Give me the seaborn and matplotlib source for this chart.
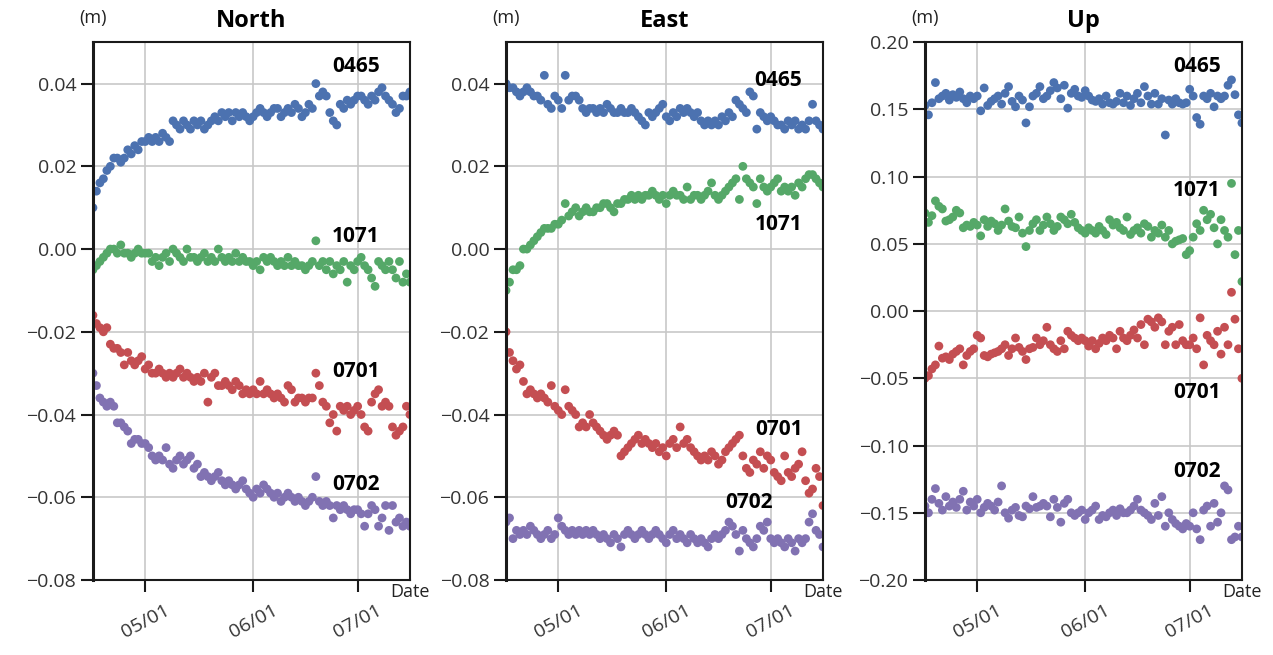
#!/usr/bin/env python
# coding: utf-8

import numpy as np
import pandas as pd
import matplotlib
matplotlib.use('Agg')
import matplotlib.pyplot as plt
import matplotlib.dates as mdates
from matplotlib.ticker import FuncFormatter, MultipleLocator
import seaborn as sns


# daily solutions, 2023-04-16 .. 2023-07-16, values in mm
dates = pd.date_range('2023-04-16', '2023-07-16', freq='D')
stations = ['0465', '1071', '0701', '0702']
components = ['North', 'East', 'Up']

north_0465 = [10, 14, 16, 17, 19, 20, 22, 22, 21, 22,
              24, 23, 25, 24, 26, 26, 27, 26, 27, 26,
              28, 27, 26, 31, 30, 29, 31, 30, 29, 31,
              30, 31, 29, 30, 31, 32, 31, 33, 32, 33,
              31, 33, 32, 33, 32, 31, 32, 33, 34, 33,
              32, 33, 34, 34, 32, 33, 34, 33, 35, 34,
              32, 33, 35, 34, 40, 37, 38, 37, 33, 31,
              30, 35, 34, 36, 35, 36, 37, 37, 36, 35,
              37, 36, 38, 39, 37, 36, 35, 33, 34, 37,
              37, 38]
north_1071 = [-5, -4, -3, -2, -1, 0, 0, -1, 1, -1,
              -1, -2, -1, 0, -1, -1, -1, -3, -2, -4,
              -2, -1, -3, 0, -1, -2, -3, 0, -2, -2,
              -3, -2, -1, -3, -2, -3, 0, -2, -3, -2,
              -3, -1, -3, -2, -3, -3, -4, -3, -5, -2,
              -3, -2, -3, -4, -3, -4, -2, -4, -3, -4,
              -4, -5, -4, -3, 2, -4, -3, -5, -3, -6,
              -4, -5, -3, -8, -4, -5, -3, -2, -4, -5,
              -7, -9, -3, -4, -5, -3, -5, -7, -3, -8,
              -6, -8]
north_0701 = [-16, -18, -19, -20, -19, -23, -24, -24, -25, -28,
              -25, -27, -28, -27, -26, -29, -28, -30, -30, -29,
              -30, -31, -30, -31, -30, -29, -31, -30, -31, -32,
              -31, -32, -30, -37, -31, -30, -33, -33, -32, -33,
              -34, -32, -33, -35, -34, -35, -34, -35, -32, -35,
              -34, -35, -36, -35, -36, -37, -33, -34, -37, -36,
              -36, -37, -36, -36, -30, -33, -37, -38, -42, -40,
              -44, -38, -39, -38, -40, -39, -38, -40, -43, -44,
              -37, -35, -34, -38, -37, -38, -43, -45, -44, -43,
              -38, -40]
north_0702 = [-30, -33, -36, -37, -38, -37, -38, -42, -42, -43,
              -44, -47, -46, -46, -47, -47, -48, -50, -51, -50,
              -51, -48, -52, -53, -51, -50, -52, -51, -50, -53,
              -52, -55, -54, -55, -56, -55, -54, -56, -57, -56,
              -57, -58, -57, -56, -58, -59, -60, -58, -59, -57,
              -58, -59, -60, -59, -61, -60, -59, -60, -61, -60,
              -61, -62, -61, -60, -55, -61, -62, -61, -62, -65,
              -62, -63, -62, -63, -64, -63, -63, -64, -67, -64,
              -62, -63, -67, -65, -62, -68, -62, -66, -65, -67,
              -66, -67]

east_0465 = [40, 39, 39, 38, 37, 38, 39, 38, 37, 37,
             36, 42, 35, 34, 37, 36, 34, 42, 36, 37,
             37, 36, 34, 33, 34, 34, 33, 34, 33, 35,
             34, 33, 33, 34, 33, 33, 34, 33, 32, 31,
             30, 33, 32, 33, 34, 35, 32, 31, 33, 32,
             34, 33, 34, 33, 32, 33, 31, 30, 31, 30,
             31, 30, 32, 31, 33, 32, 36, 35, 34, 33,
             38, 37, 29, 33, 32, 31, 32, 31, 30, 30,
             29, 31, 30, 31, 29, 30, 29, 31, 35, 31,
             30, 29]
east_1071 = [-10, -8, -5, -5, -4, 0, 0, 1, 2, 3,
             4, 5, 5, 5, 6, 6, 7, 11, 8, 9,
             10, 8, 9, 10, 9, 9, 10, 10, 11, 11,
             10, 9, 11, 11, 12, 12, 13, 12, 13, 12,
             13, 13, 14, 13, 12, 13, 11, 13, 14, 13,
             13, 12, 15, 12, 13, 13, 12, 13, 14, 16,
             13, 12, 13, 14, 15, 16, 17, 12, 20, 17,
             16, 15, 11, 17, 15, 14, 15, 16, 17, 14,
             15, 14, 15, 13, 16, 15, 17, 18, 18, 17,
             16, 15]
east_0701 = [-20, -25, -27, -29, -28, -32, -35, -34, -35, -36,
             -35, -36, -37, -33, -38, -39, -40, -34, -38, -39,
             -40, -43, -42, -43, -40, -42, -43, -44, -45, -46,
             -45, -44, -45, -50, -49, -48, -47, -46, -45, -47,
             -46, -47, -48, -47, -49, -48, -50, -47, -46, -48,
             -43, -47, -46, -48, -49, -50, -51, -50, -51, -49,
             -50, -52, -51, -49, -48, -47, -46, -45, -50, -53,
             -54, -51, -52, -49, -53, -50, -51, -54, -55, -56,
             -50, -54, -55, -53, -52, -49, -56, -59, -58, -53,
             -55, -62]
east_0702 = [-66, -65, -70, -68, -69, -68, -69, -67, -68, -69,
             -70, -69, -68, -70, -69, -65, -67, -68, -69, -68,
             -69, -68, -69, -68, -69, -68, -69, -70, -69, -70,
             -71, -69, -70, -72, -69, -68, -69, -70, -69, -68,
             -69, -70, -69, -68, -69, -70, -71, -69, -68, -70,
             -69, -70, -71, -69, -70, -71, -70, -71, -72, -70,
             -69, -70, -69, -68, -66, -67, -69, -73, -68, -70,
             -71, -72, -70, -67, -68, -66, -70, -71, -70, -71,
             -72, -70, -71, -73, -70, -71, -70, -66, -64, -68,
             -69, -72]

up_0465 = [153, 146, 155, 170, 158, 160, 162, 157, 161, 159,
           163, 158, 155, 160, 158, 160, 149, 166, 153, 156,
           158, 160, 154, 162, 167, 156, 152, 160, 157, 140,
           152, 160, 162, 167, 158, 160, 164, 170, 166, 158,
           168, 151, 162, 165, 160, 159, 164, 160, 157, 156,
           158, 154, 160, 155, 154, 156, 162, 155, 160, 153,
           158, 162, 155, 167, 160, 154, 162, 154, 158, 131,
           157, 154, 158, 155, 154, 155, 165, 160, 144, 139,
           160, 158, 162, 152, 160, 158, 160, 168, 172, 161,
           146, 140]
up_1071 = [73, 66, 71, 82, 78, 76, 67, 68, 70, 75,
           73, 62, 64, 63, 66, 64, 56, 68, 63, 67,
           65, 60, 64, 76, 67, 63, 62, 70, 58, 48,
           60, 65, 68, 60, 64, 70, 65, 60, 63, 70,
           68, 65, 72, 66, 62, 60, 58, 62, 60, 58,
           63, 60, 57, 68, 64, 66, 62, 60, 70, 57,
           60, 62, 58, 65, 63, 55, 60, 58, 64, 55,
           60, 50, 52, 53, 54, 42, 45, 55, 65, 60,
           75, 68, 72, 62, 50, 68, 60, 55, 95, 42,
           60, 22]
up_0701 = [-50, -48, -43, -40, -26, -35, -34, -36, -32, -30,
           -28, -40, -33, -30, -28, -18, -20, -33, -34, -32,
           -31, -30, -28, -25, -33, -28, -20, -27, -30, -36,
           -28, -27, -20, -25, -22, -12, -25, -28, -30, -22,
           -28, -15, -18, -20, -22, -20, -22, -26, -22, -28,
           -24, -20, -22, -18, -20, -28, -15, -20, -22, -18,
           -14, -20, -10, -25, -6, -8, -12, -5, -8, -25,
           -15, -12, -25, -10, -22, -25, -25, -20, -28, -5,
           -40, -18, -22, -25, -15, -32, -12, -25, 14, -6,
           -28, -50]
up_0702 = [-145, -150, -140, -132, -143, -148, -138, -145, -142, -146,
           -140, -134, -148, -142, -145, -140, -150, -146, -143, -145,
           -148, -142, -130, -150, -154, -148, -146, -152, -153, -145,
           -147, -138, -146, -145, -143, -145, -153, -140, -146, -157,
           -143, -140, -150, -152, -150, -148, -155, -150, -148, -145,
           -155, -152, -153, -150, -148, -152, -147, -150, -150, -148,
           -145, -140, -148, -150, -152, -155, -143, -152, -138, -160,
           -150, -155, -158, -160, -162, -158, -160, -150, -162, -170,
           -148, -145, -160, -143, -157, -150, -130, -133, -170, -168,
           -160, -168]

series = {
    'North': [north_0465, north_1071, north_0701, north_0702],
    'East': [east_0465, east_1071, east_0701, east_0702],
    'Up': [up_0465, up_1071, up_0701, up_0702],
}

# label positions (axes fraction) for the station names
label_pos = {
    'North': [(0.83, 0.954), (0.83, 0.638), (0.83, 0.387), (0.83, 0.178)],
    'East': [(0.86, 0.928), (0.86, 0.662), (0.86, 0.279), (0.765, 0.145)],
    'Up': [(0.858, 0.954), (0.858, 0.725), (0.858, 0.348), (0.858, 0.201)],
}

colors = ['#4C72B0', '#55A868', '#C44E52', '#8172B2']


def minus_fmt(fmt):
    return FuncFormatter(lambda v, p: (fmt % v).replace('-', '\u2212'))


def main():
    sns.set_theme(style='whitegrid')
    plt.rcParams['font.family'] = ['Open Sans', 'DejaVu Sans']

    fig = plt.figure(figsize=(12.73, 6.55), dpi=100)
    lefts = [0.073, 0.3975, 0.7266]

    for comp, left in zip(components, lefts):
        ax = fig.add_axes([left, 0.1145, 0.249, 0.821])

        frames = []
        for st, vals in zip(stations, series[comp]):
            if len(vals) != len(dates):
                raise ValueError(f'{comp} {st}: {len(vals)} values')
            frames.append(pd.DataFrame({'date': dates,
                                        'value': np.array(vals) / 1000.0,
                                        'station': st}))
        df = pd.concat(frames, ignore_index=True)

        sns.scatterplot(data=df, x='date', y='value', hue='station',
                        palette=colors, hue_order=stations, s=40,
                        linewidth=0, legend=False, ax=ax)

        ax.set_xlim(dates[0], dates[-1])
        if comp == 'Up':
            ax.set_ylim(-0.20, 0.20)
            ax.yaxis.set_major_locator(MultipleLocator(0.05))
        else:
            ax.set_ylim(-0.08, 0.05)
            ax.yaxis.set_major_locator(MultipleLocator(0.02))
        ax.yaxis.set_major_formatter(minus_fmt('%.2f'))

        ax.xaxis.set_major_locator(mdates.MonthLocator(bymonth=[5, 6, 7]))
        ax.xaxis.set_major_formatter(mdates.DateFormatter('%m/%d'))
        plt.setp(ax.get_xticklabels(), rotation=28, ha='center')

        ax.set_xlabel('')
        ax.set_ylabel('')
        ax.grid(True, color='#c8c8c8', linewidth=1.2)
        for sp in ax.spines.values():
            sp.set_color('#1a1a1a')
            sp.set_linewidth(1.5)
        ax.spines['left'].set_linewidth(2.2)
        ax.tick_params(axis='both', which='major', direction='out', length=8.5,
                       width=1.5, color='#1a1a1a', labelsize=14,
                       labelcolor='#333333', left=True, bottom=True)
        ax.tick_params(axis='x', pad=7)

        ax.text(0.5, 1.04, comp, transform=ax.transAxes, ha='center',
                va='center', fontsize=17, fontweight='bold', color='black')
        ax.text(0.0, 1.045, '(m)', transform=ax.transAxes, ha='center',
                va='center', fontsize=13, color='#222222')
        ax.text(1.0, -0.022, 'Date', transform=ax.transAxes, ha='center',
                va='center', fontsize=13, color='#222222')

        for st, (tx, ty) in zip(stations, label_pos[comp]):
            ax.text(tx, ty, st, transform=ax.transAxes, ha='center',
                    va='center', fontsize=15, fontweight='bold', color='black')

    fig.savefig('out.png', dpi=100)


if __name__ == '__main__':
    main()
